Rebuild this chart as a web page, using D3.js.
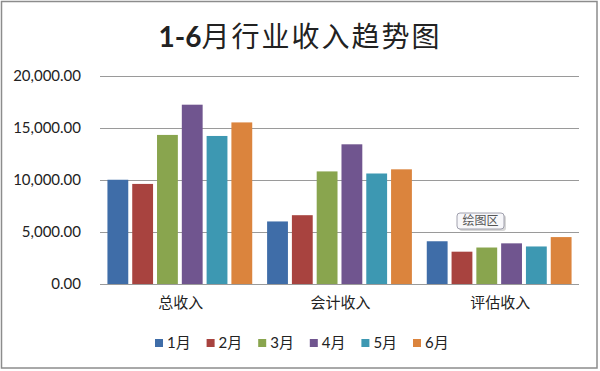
<!DOCTYPE html>
<html lang="zh">
<head>
<meta charset="UTF-8">
<title>1-6月行业收入趋势图</title>
<script src="https://d3js.org/d3.v7.min.js"></script>
<style>
  body { margin: 0; background: #fff; }
  text { font-family: Lato, "Noto Sans CJK SC", sans-serif; fill: #222; }
</style>
</head>
<body>
<script>
// data
const categories = ["总收入", "会计收入", "评估收入"];
const months = ["1月", "2月", "3月", "4月", "5月", "6月"];
const jan = [10000, 6000, 4100];
const feb = [9600, 6600, 3100];
const mar = [14300, 10800, 3500];
const apr = [17200, 13400, 3900];
const may = [14200, 10600, 3600];
const jun = [15500, 11000, 4500];
const yTicks = [0, 5000, 10000, 15000, 20000];

const seriesValues = [jan, feb, mar, apr, may, jun];
const colors = ["#3F6DA8", "#A8433F", "#89A54E", "#70558F", "#3D98B2", "#DB843D"];

const W = 600, H = 371;
const svg = d3.select("body").append("svg").attr("width", W).attr("height", H);

// outer frame
svg.append("rect")
  .attr("x", 1.5).attr("y", 1.5).attr("width", 595.5).attr("height", 366.5)
  .attr("fill", "#fff").attr("stroke", "#8c8c8c").attr("stroke-width", 1.5);

// title
const title = svg.append("text")
  .attr("x", 300).attr("y", 47).attr("text-anchor", "middle")
  .style("font-size", "28px");
title.append("tspan").style("font-weight", "bold").text("1-6");
title.append("tspan").style("font-family", "'Noto Sans CJK SC'").style("letter-spacing", "2px")
  .text("月行业收入趋势图");

// scales
const x0 = d3.scaleBand().domain(categories).range([100, 579]);
const x1 = d3.scaleBand().domain(months).range([0, x0.bandwidth()])
  .paddingInner(0.16).paddingOuter(0.3);
const y = d3.scaleLinear().domain([0, 20000]).range([284, 75.5]);

// gridlines
svg.append("g").selectAll("line").data(yTicks).join("line")
  .attr("x1", 100).attr("x2", 579)
  .attr("y1", d => Math.round(y(d)) + 0.5).attr("y2", d => Math.round(y(d)) + 0.5)
  .attr("stroke", "#9a9a9a").attr("stroke-width", 1.2);

// y labels
svg.append("g").selectAll("text").data(yTicks).join("text")
  .attr("x", 81).attr("y", d => y(d)).attr("dy", "0.35em")
  .attr("text-anchor", "end").style("font-size", "15px")
  .text(d3.format(",.2f"));

// bars
const groups = svg.append("g").selectAll("g").data(categories).join("g")
  .attr("transform", c => `translate(${x0(c)},0)`);
groups.selectAll("rect")
  .data((c, ci) => months.map((m, mi) => ({ m, mi, v: seriesValues[mi][ci] })))
  .join("rect")
  .attr("x", d => x1(d.m))
  .attr("width", x1.bandwidth())
  .attr("y", d => y(d.v))
  .attr("height", d => y(0) - y(d.v))
  .attr("fill", d => colors[d.mi]);

// category labels
svg.append("g").selectAll("text").data(categories).join("text")
  .attr("x", c => x0(c) + x0.bandwidth() / 2 + 1)
  .attr("y", 308).attr("text-anchor", "middle")
  .style("font-size", "15px")
  .text(c => c);

// legend
const legend = svg.append("g").selectAll("g").data(months).join("g")
  .attr("transform", (m, i) => `translate(${155 + i * 51.6},339)`);
legend.append("rect").attr("width", 8).attr("height", 8).attr("fill", (m, i) => colors[i]);
legend.append("text").attr("x", 12).attr("y", 4).attr("dy", "0.35em")
  .style("font-size", "15px").text(m => m);

// "绘图区" tooltip left over in the screenshot
const tip = svg.append("g").attr("transform", "translate(457,213)");
tip.append("rect").attr("x", 2).attr("y", 2).attr("width", 47).attr("height", 16).attr("rx", 3)
  .attr("fill", "#bdbdbd").attr("opacity", 0.6);
tip.append("rect").attr("width", 47).attr("height", 16).attr("rx", 3)
  .attr("fill", "#f7f7fa").attr("stroke", "#8a8a9a").attr("stroke-width", 0.8);
tip.append("text").attr("x", 23.5).attr("y", 8).attr("dy", "0.35em").attr("text-anchor", "middle")
  .style("font-size", "12px").style("fill", "#555").text("绘图区");
</script>
</body>
</html>
